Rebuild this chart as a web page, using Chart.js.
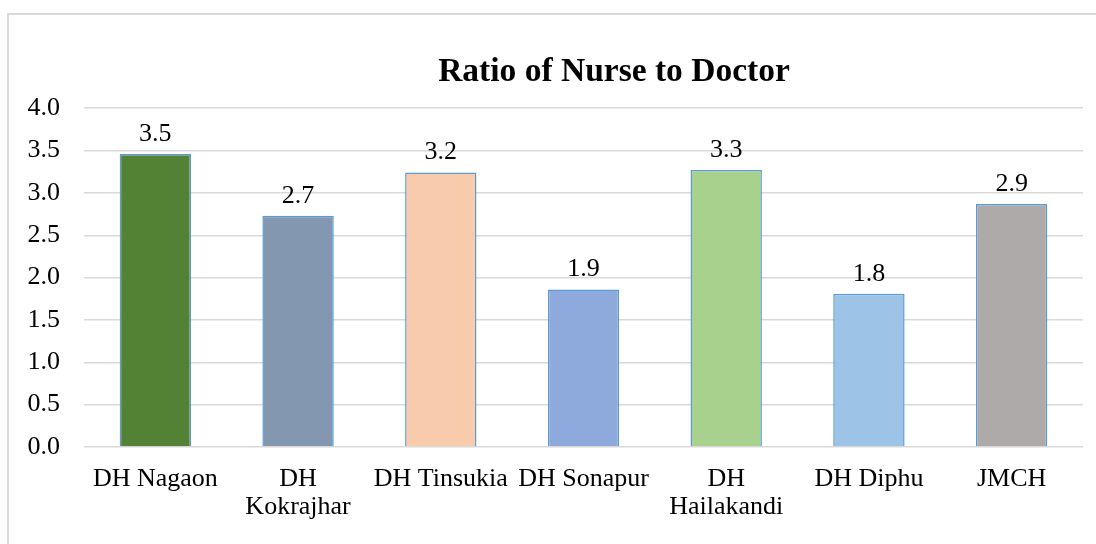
<!DOCTYPE html>
<html>
<head>
<meta charset="utf-8">
<script src="https://cdn.jsdelivr.net/npm/chart.js@4/dist/chart.umd.min.js"></script>
<style>
  html, body { margin: 0; padding: 0; background: #fff; overflow: hidden; width: 1096px; height: 544px; }
  #frame {
    position: absolute; left: 7px; top: 13px;
    width: 1210px; height: 540px;
    border-top: 2px solid #d9d9d9; border-left: 2px solid #d9d9d9;
  }
  #wrap { position: absolute; left: 0; top: 0; width: 1210px; height: 531px; }
</style>
</head>
<body>
<div id="frame"><div id="wrap"><canvas id="chart"></canvas></div></div>
<script>
const categories = ['DH Nagaon', ['DH', 'Kokrajhar'], 'DH Tinsukia', 'DH Sonapur', ['DH', 'Hailakandi'], 'DH Diphu', 'JMCH'];
const ratios = [3.46, 2.73, 3.24, 1.86, 3.27, 1.81, 2.87];
const barColors = ['#548235', '#8497B0', '#F8CBAD', '#8EA9DB', '#A9D18E', '#9DC3E6', '#AEAAAA'];
const yTicks = [0, 0.5, 1, 1.5, 2, 2.5, 3, 3.5, 4];

const FONT = '"Liberation Serif", "Times New Roman", serif';

// value labels above bars
const barLabels = {
  id: 'barLabels',
  afterDatasetsDraw(chart) {
    const ctx = chart.ctx;
    const meta = chart.getDatasetMeta(0);
    ctx.save();
    ctx.font = '26px ' + FONT;
    ctx.fillStyle = '#000';
    ctx.textAlign = 'center';
    ctx.textBaseline = 'bottom';
    meta.data.forEach((bar, i) => {
      ctx.fillText(ratios[i].toFixed(1), bar.x, bar.y - 7);
    });
    ctx.restore();
  }
};

new Chart(document.getElementById('chart').getContext('2d'), {
  type: 'bar',
  data: {
    labels: categories,
    datasets: [{
      label: 'Ratio',
      data: ratios,
      backgroundColor: barColors,
      borderColor: '#5B9BD5',
      borderWidth: 1.5,
      barPercentage: 0.5,
      categoryPercentage: 1
    }]
  },
  options: {
    responsive: true,
    maintainAspectRatio: false,
    animation: false,
    layout: { padding: 0 },
    plugins: {
      legend: { display: false },
      tooltip: { enabled: false },
      title: {
        display: true,
        text: 'Ratio of Nurse to Doctor',
        color: '#000',
        font: { family: FONT, size: 33.5, weight: 'bold' },
        padding: { top: 37, bottom: 16 }
      }
    },
    scales: {
      x: {
        grid: { display: false },
        border: { display: false },
        ticks: {
          color: '#000',
          font: { family: FONT, size: 26, lineHeight: 1.08 },
          padding: 10,
          maxRotation: 0,
          autoSkip: false
        },
        afterFit(scale) { scale.height = 99; }
      },
      y: {
        min: 0,
        max: 4,
        afterBuildTicks(scale) { scale.ticks = yTicks.map(v => ({ value: v })); },
        grid: { color: '#d9d9d9', lineWidth: 1.5, drawTicks: false },
        border: { display: false },
        ticks: {
          color: '#000',
          font: { family: FONT, size: 26 },
          padding: 24,
          callback: v => v.toFixed(1)
        },
        afterFit(scale) { scale.width = 75; }
      },
      // empty right-hand space (chart is clipped on the right)
      yRight: {
        position: 'right',
        grid: { display: false },
        border: { display: false },
        ticks: { display: false },
        afterFit(scale) { scale.width = 136; }
      }
    }
  },
  plugins: [barLabels]
});
</script>
</body>
</html>
